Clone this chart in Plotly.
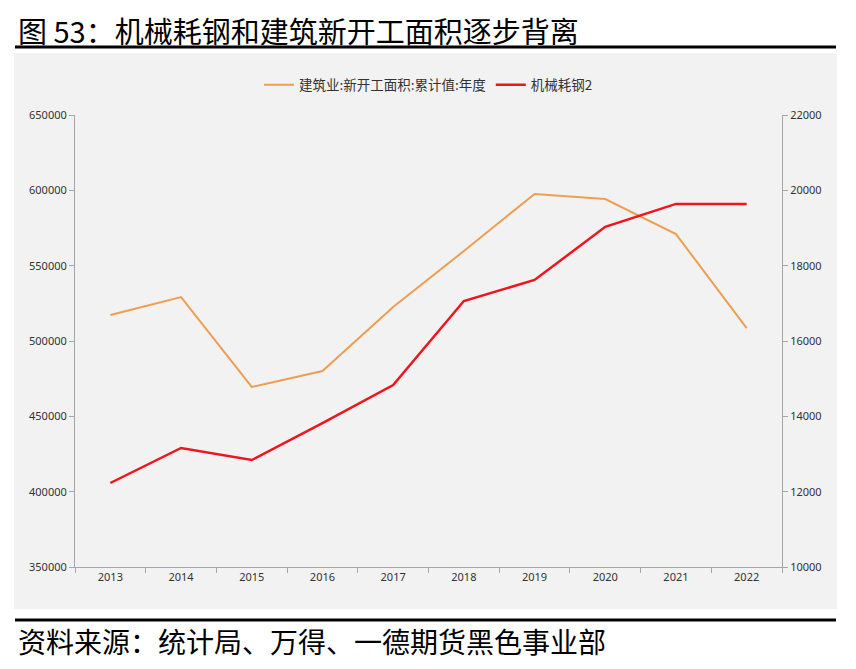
import plotly.graph_objects as go

years = ["2013", "2014", "2015", "2016", "2017", "2018", "2019", "2020", "2021", "2022"]
construction_new_area = [517200, 529200, 469500, 480100, 522600, 559700, 597600, 594200, 571000, 508600]
machinery_steel = [12230, 13160, 12840, 13820, 14830, 17060, 17620, 19030, 19640, 19640]

left_ticks = [350000, 400000, 450000, 500000, 550000, 600000, 650000]
right_ticks = [10000, 12000, 14000, 16000, 18000, 20000, 22000]

# the page body has an 8px margin, so the figure is shifted by OFF
OFF = 8
W, H = 840, 653
L, T = 67, 107
R = W - (782 - OFF)
B = H - (567 - OFF)
PW, PH = W - L - R, H - T - B

def px(x):
    return (x - OFF - L) / PW

def py(y):
    return 1 - (y - OFF - T) / PH

fig = go.Figure()
fig.add_trace(go.Scatter(x=years, y=construction_new_area, name="建筑业:新开工面积:累计值:年度",
                         mode="lines", line=dict(color="#EE9E52", width=2), yaxis="y"))
fig.add_trace(go.Scatter(x=years, y=machinery_steel, name="机械耗钢2",
                         mode="lines", line=dict(color="#F0141E", width=2.5), yaxis="y2"))

font_cjk = "Noto Sans CJK SC"
tickfont = dict(family="Liberation Sans Narrow, Arial Narrow, Noto Sans", size=11, color="#333333")

fig.update_layout(
    width=W, height=H,
    margin=dict(l=L, r=R, t=T, b=B),
    paper_bgcolor="white",
    plot_bgcolor="#F2F2F2",
    showlegend=True,
    legend=dict(orientation="h", x=0.5, xanchor="center", y=py(85), yanchor="middle",
                font=dict(family=font_cjk, size=13.5, color="#333333"), bgcolor="rgba(0,0,0,0)",
                tracegroupgap=0),
    xaxis=dict(type="category", range=[-0.5, 9.5], showgrid=False, zeroline=False,
               showline=True, linecolor="#A6A6A6", linewidth=1,
               ticks="outside", ticklen=5, tickcolor="#A6A6A6", tickson="boundaries",
               tickfont=tickfont),
    yaxis=dict(range=[350000, 650000], tickvals=left_ticks, ticktext=[str(v) for v in left_ticks],
               showgrid=False, zeroline=False, showline=True, linecolor="#A6A6A6", linewidth=1,
               ticks="outside", ticklen=5, tickcolor="#A6A6A6", tickfont=tickfont),
    yaxis2=dict(range=[10000, 22000], tickvals=right_ticks, ticktext=[str(v) for v in right_ticks],
                overlaying="y", side="right", showgrid=False, zeroline=False, showline=True,
                linecolor="#A6A6A6", linewidth=1, ticks="outside", ticklen=5, tickcolor="#A6A6A6",
                tickfont=tickfont),
    shapes=[
        dict(type="rect", xref="paper", yref="paper", x0=px(14), x1=px(837), y0=py(609), y1=py(53),
             fillcolor="#F2F2F2", line=dict(width=0), layer="below"),
        dict(type="line", xref="paper", yref="paper", x0=px(15), x1=px(836), y0=py(47), y1=py(47),
             line=dict(color="black", width=3)),
        dict(type="line", xref="paper", yref="paper", x0=px(15), x1=px(836), y0=py(620), y1=py(620),
             line=dict(color="black", width=3)),
    ],
    annotations=[
        dict(text="图 53：机械耗钢和建筑新开工面积逐步背离", xref="paper", yref="paper",
             x=px(16), y=py(30), xanchor="left", yanchor="middle", showarrow=False,
             font=dict(family=font_cjk, size=29, color="black")),
        dict(text="资料来源：统计局、万得、一德期货黑色事业部", xref="paper", yref="paper",
             x=px(16), y=py(641), xanchor="left", yanchor="middle", showarrow=False,
             font=dict(family=font_cjk, size=28, color="black")),
    ],
)

fig.write_html("out.html")
